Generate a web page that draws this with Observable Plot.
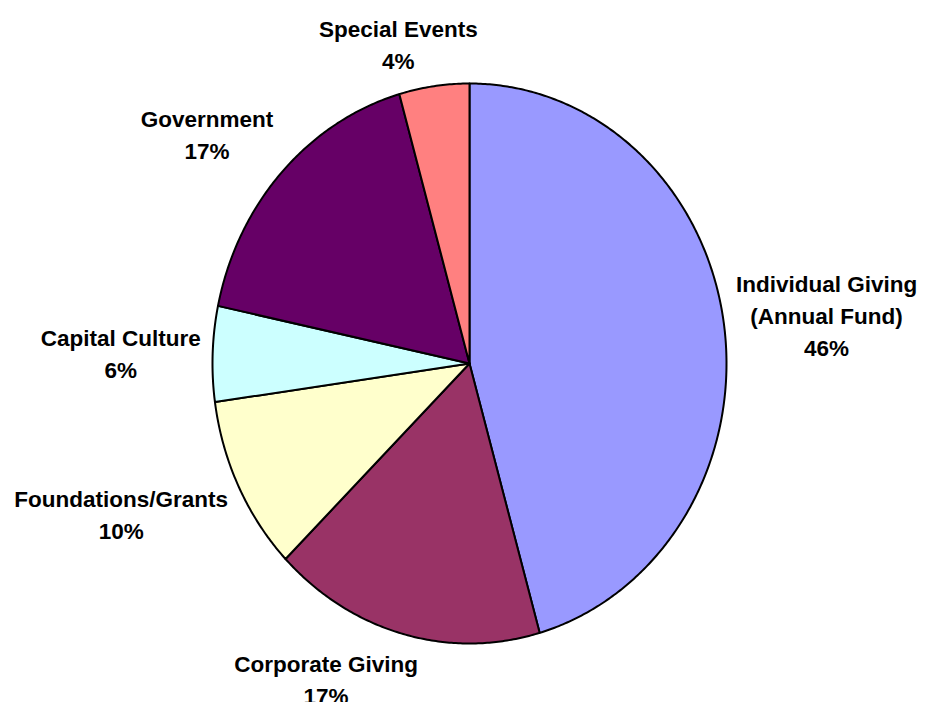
<!DOCTYPE html>
<html>
<head>
<meta charset="utf-8">
<script src="https://cdn.jsdelivr.net/npm/d3@7"></script>
<script src="https://cdn.jsdelivr.net/npm/@observablehq/plot@0.6"></script>
<style>
  html, body { margin: 0; padding: 0; background: #ffffff; }
  #chart { width: 932px; height: 702px; overflow: hidden; }
</style>
</head>
<body>
<div id="chart"></div>
<script>
// ---- data ----
const categories = [
  "Individual Giving\n(Annual Fund)",
  "Corporate Giving",
  "Foundations/Grants",
  "Capital Culture",
  "Government",
  "Special Events"
];
const shares = [45.6, 17.1, 10.1, 5.5, 17.3, 4.4];
const percentLabels = ["46%", "17%", "10%", "6%", "17%", "4%"];
const palette = ["#9999FF", "#993366", "#FFFFCC", "#CCFFFF", "#660066", "#FF8080"];

// ---- layout ----
const W = 932, H = 702;
const M = {top: 83, right: 206, bottom: 59, left: 212};
const rx = (W - M.left - M.right) / 2;   // px per x unit
const ry = (H - M.top - M.bottom) / 2;   // px per y unit
const FONT_SIZE = 22.5, LINE_H = 32, GAP = 12, KX = 3.4, KY = 1.35;
const FONT_FAMILY = '"Liberation Sans", Arial, Helvetica, sans-serif';

const rows = categories.map((name, i) => ({name, share: shares[i], pct: percentLabels[i]}));
const arcs = d3.pie().sort(null).value(d => d.share).startAngle(0).endAngle(2 * Math.PI)(rows);

// slice polygons in data space (unit circle, stretched by the scales)
const pts = [];
for (const a of arcs) {
  const name = a.data.name;
  pts.push({name, x: 0, y: 0});
  const n = Math.max(2, Math.ceil((a.endAngle - a.startAngle) / (Math.PI / 360)));
  for (let i = 0; i <= n; i++) {
    const t = a.startAngle + (a.endAngle - a.startAngle) * i / n;
    pts.push({name, x: Math.sin(t), y: Math.cos(t)});
  }
  pts.push({name, x: 0, y: 0});
}

// label placement: outside the edge along the mid-angle, box pushed outward
const ctx = document.createElement("canvas").getContext("2d");
ctx.font = `bold ${FONT_SIZE}px ${FONT_FAMILY}`;
const clamp = v => Math.max(-1, Math.min(1, v));
const labels = arcs.map(a => {
  const text = a.data.name + "\n" + a.data.pct;
  const lines = text.split("\n");
  const w = d3.max(lines, l => ctx.measureText(l).width);
  const h = lines.length * LINE_H;
  const m = (a.startAngle + a.endAngle) / 2;
  const px = Math.sin(m) * rx, py = -Math.cos(m) * ry;
  const len = Math.hypot(px, py);
  const dx = px / len, dy = py / len;
  const ax = dx * (len + GAP), ay = dy * (len + GAP);
  const cx = ax + (w / 2) * clamp(KX * dx);
  const cy = ay + (h / 2) * clamp(KY * dy);
  return {text, x: cx / rx, y: -cy / ry};
});

const chart = Plot.plot({
  width: W,
  height: H,
  marginTop: M.top,
  marginRight: M.right,
  marginBottom: M.bottom,
  marginLeft: M.left,
  x: {domain: [-1, 1], axis: null},
  y: {domain: [-1, 1], axis: null},
  color: {type: "ordinal", domain: categories, range: palette},
  style: {background: "#ffffff", overflow: "visible"},
  marks: [
    Plot.line(pts, {
      x: "x", y: "y", z: "name", fill: "name",
      stroke: "#000000", strokeWidth: 2, strokeLinejoin: "round", strokeOpacity: 1
    }),
    Plot.text(labels, {
      x: "x", y: "y", text: "text",
      textAnchor: "middle", lineAnchor: "middle", lineHeight: LINE_H / FONT_SIZE,
      fontSize: FONT_SIZE, fontWeight: "bold", fontFamily: FONT_FAMILY, fill: "#000000"
    })
  ]
});
document.getElementById("chart").appendChild(chart);
</script>
</body>
</html>
